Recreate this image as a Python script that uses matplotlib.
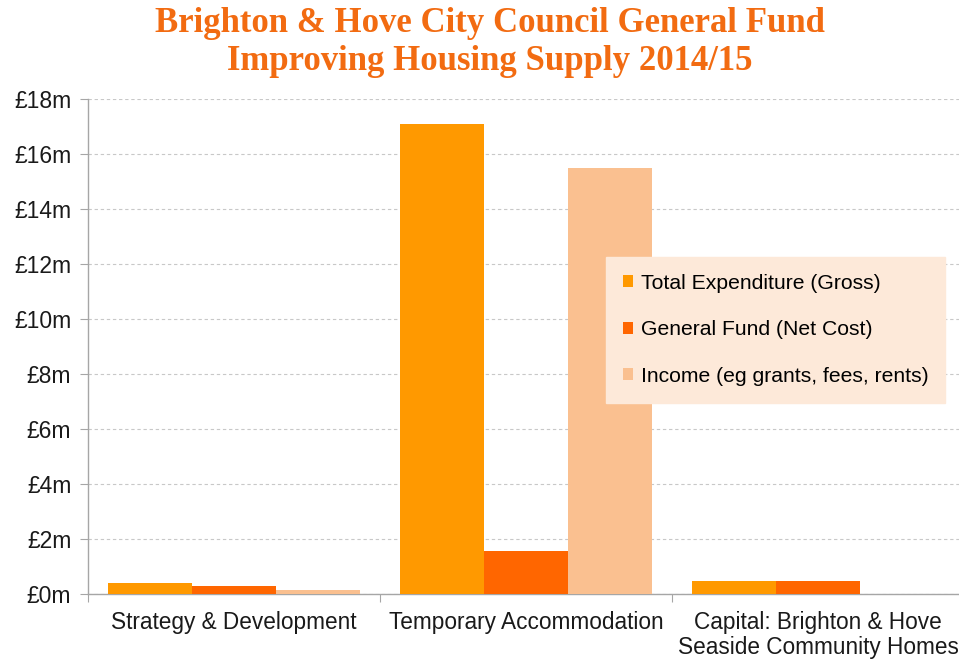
import matplotlib
matplotlib.use("Agg")
import matplotlib.pyplot as plt
import numpy as np

categories = ["Strategy & Development", "Temporary Accommodation",
              "Capital: Brighton & Hove\nSeaside Community Homes"]
series_names = ["Total Expenditure (Gross)", "General Fund (Net Cost)",
                "Income (eg grants, fees, rents)"]
total_gross = [0.40, 17.10, 0.47]
general_fund = [0.29, 1.56, 0.47]
income = [0.15, 15.49, 0.0]
y_ticks = [0, 2, 4, 6, 8, 10, 12, 14, 16, 18]
y_tick_labels = ["£%dm" % v for v in y_ticks]
colors = ["#FF9900", "#FF6600", "#FAC090"]

plt.rcParams['font.family'] = ['Liberation Sans', 'DejaVu Sans']

fig = plt.figure(figsize=(9.59, 6.59), dpi=100)
ax_left, ax_right, ax_bottom, ax_top = 88, 964, 594, 99
ax = fig.add_axes([ax_left/959, 1-ax_bottom/659, (ax_right-ax_left)/959, (ax_bottom-ax_top)/659])

x = np.arange(len(categories))
w = 0.288
for i, (vals, name) in enumerate(zip([total_gross, general_fund, income], series_names)):
    ax.bar(x + (i-1)*w, vals, width=w, color=colors[i], label=name, zorder=3)

ax.set_xlim(-0.5, 2.5)
ax.set_ylim(0, 18)
ax.set_yticks(y_ticks)
ax.set_yticklabels(y_tick_labels, fontsize=16.5, color="#1a1a1a")
ax.set_xticks([-0.5, 0.5, 1.5, 2.5])
ax.set_xticklabels([])
ax.set_xticks(x, minor=True)
ax.set_xticklabels(categories, minor=True, fontsize=16.3, color="#1a1a1a", linespacing=1.15)
ax.tick_params(axis='x', which='minor', length=0, pad=12)
ax.tick_params(axis='x', which='major', length=6, color="#A6A6A6", direction='out')
ax.tick_params(axis='y', length=6, color="#A6A6A6", direction='out', pad=6)

ax.grid(axis='y', linestyle=(0, (3, 2.5)), color="#C8C8C8", linewidth=0.8, zorder=0)
for s in ['top', 'right']:
    ax.spines[s].set_visible(False)
for s in ['left', 'bottom']:
    ax.spines[s].set_color("#A6A6A6")
    ax.spines[s].set_linewidth(1.0)

leg = ax.legend(loc='upper left',
                bbox_to_anchor=((606-ax_left)/(ax_right-ax_left), (ax_bottom-257)/(ax_bottom-ax_top)),
                frameon=True, fontsize=15.2, handlelength=0.5, handleheight=0.5,
                handletextpad=0.35, labelspacing=1.3, borderpad=0.8, borderaxespad=0,
                fancybox=False)
leg.get_frame().set_facecolor("#FDE9D9")
leg.get_frame().set_edgecolor("#FDE9D9")
leg.get_frame().set_alpha(1)

fig.text(490/959, 1-42/659, "Brighton & Hove City Council General Fund\nImproving Housing Supply 2014/15",
         ha='center', va='center', fontsize=25, fontweight='bold', color="#F26B11",
         family=['Liberation Serif'], linespacing=1.2)

fig.savefig("out.png", dpi=100)
